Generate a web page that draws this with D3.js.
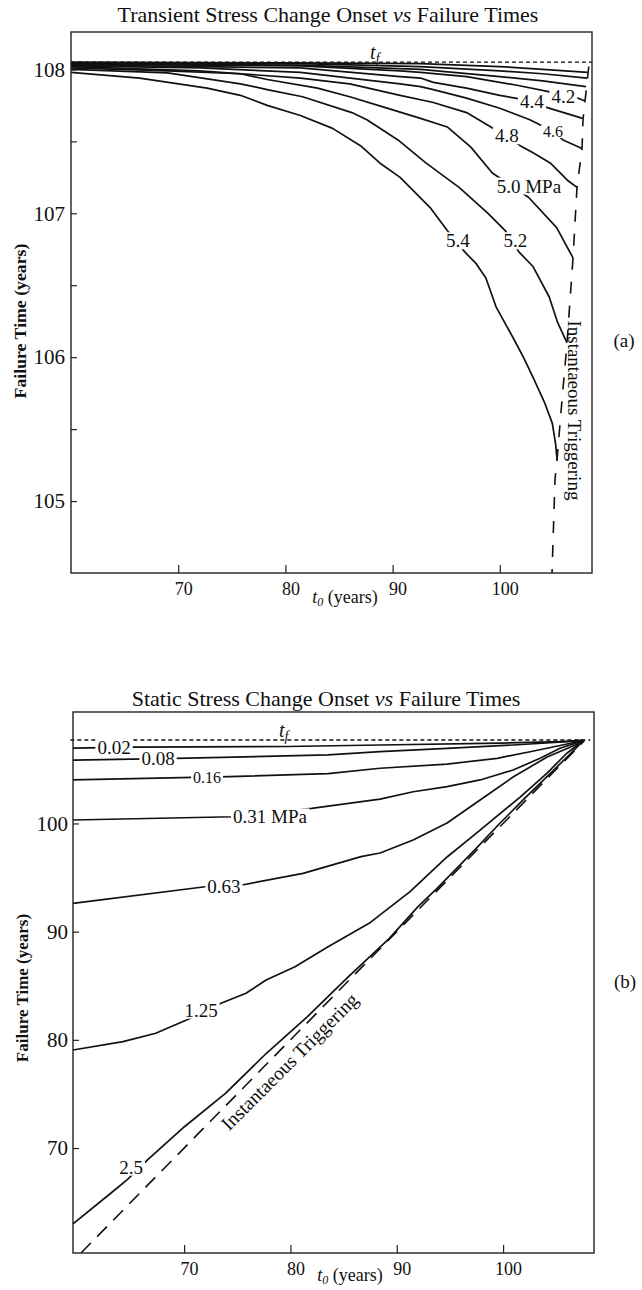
<!DOCTYPE html>
<html>
<head>
<meta charset="utf-8">
<script src="https://cdn.jsdelivr.net/npm/d3@7"></script>
<style>
  body { margin: 0; background: #fff; }
  svg { display: block; font-family: "Liberation Serif", "Times New Roman", serif; }
  text { fill: #111; white-space: pre; }
</style>
</head>
<body>
<svg id="chart" width="642" height="1290"></svg>
<script>

// ---- panel (a): transient stress change, points are [t0, failure time] in years

let xTicks = [70, 80, 90, 100];
let transientYTicks = [105, 105.5, 106, 106.5, 107, 107.5, 108];
let transientTf = 108.05;

let transientU1 = [[60, 108.05], [81.4, 108.045], [92.6, 108.04], [100, 108.02], [104, 108.0], [108.2, 107.98]];
let transientU2 = [[60, 108.045], [81.4, 108.04], [92.6, 108.02], [100, 107.99], [104, 107.97], [108.13, 107.94]];
let transientU3 = [[60, 108.04], [81.4, 108.03], [92.6, 108.0], [100, 107.95], [104, 107.92], [108.04, 107.88]];
let transient42 = [[60, 108.035], [72, 108.03], [81.4, 108.025], [90.7, 107.99], [92.6, 107.98], [96.9, 107.95],
                   [101.6, 107.89], [104.9, 107.84], [105.9, 107.82], [107.3, 107.8], [107.95, 107.78]];
let transient44 = [[60, 108.03], [72, 108.02], [81.4, 108.01], [90.7, 107.95], [92.6, 107.94], [93.8, 107.91],
                   [96.9, 107.87], [100, 107.82], [103, 107.78], [104.2, 107.74], [107.72, 107.66]];
let transient46 = [[60, 108.025], [72, 108.01], [81.4, 107.98], [90.7, 107.9], [92.6, 107.88], [93.8, 107.86],
                   [96.9, 107.8], [100, 107.73], [102.8, 107.65], [104.96, 107.57], [105.9, 107.51], [107.67, 107.45]];
let transient48 = [[60, 108.02], [72, 107.99], [81.4, 107.94], [86, 107.9], [90.7, 107.82], [93.8, 107.77],
                   [96.9, 107.7], [99.4, 107.59], [100.65, 107.54], [101.9, 107.47], [103.1, 107.42], [104.7, 107.35],
                   [106.3, 107.23], [107.2, 107.18]];
let transient50 = [[60, 108.01], [69, 107.99], [75.8, 107.97], [78.3, 107.93], [83, 107.87], [86, 107.81],
                   [89.1, 107.74], [92.6, 107.66], [95.1, 107.6], [97.3, 107.46], [99.3, 107.28], [102.7, 107.11],
                   [105.3, 106.9], [106.83, 106.69]];
let transient52 = [[60, 108.0], [69, 107.976], [75.8, 107.9], [78.3, 107.86], [81.6, 107.81], [86.2, 107.7],
                   [87.6, 107.65], [90.5, 107.51], [93.1, 107.35], [96.2, 107.18], [98.9, 107.0], [100.5, 106.88],
                   [101.8, 106.73], [103.1, 106.63], [104.6, 106.42], [105.4, 106.24], [106.27, 106.1]];
let transient54 = [[60, 107.98], [66.4, 107.94], [72.7, 107.87], [75.8, 107.82], [78.3, 107.75], [81.4, 107.68],
                   [84.4, 107.59], [87, 107.47], [88.8, 107.35], [90.7, 107.25], [93.5, 107.04], [95.1, 106.88],
                   [96.75, 106.73], [97.8, 106.65], [98.7, 106.55], [99.65, 106.35], [101.2, 106.14], [102.2, 106.0],
                   [103.1, 105.86], [104.2, 105.68], [104.9, 105.54], [105.2, 105.4], [105.34, 105.29]];
let transientInstant = [[108.3, 108.02], [107.95, 107.78], [107.76, 107.65], [107.67, 107.45], [107.2, 107.18],
                        [106.83, 106.69], [106.27, 106.1], [105.8, 105.7], [105.34, 105.29], [105.15, 105.15],
                        [104.87, 104.5]];

let transientLabelText = ["4.2", "4.4", "4.6", "4.8", "5.0 MPa", "5.2", "5.4"];
let transientLabelAt = [[105.93, 107.81], [102.98, 107.78], [104.96, 107.57], [100.65, 107.54],
                        [99.71, 107.19], [101.46, 106.81], [96.1, 106.81]];

// ---- panel (b): static stress change

let staticYTicks = [70, 80, 90, 100];
let staticTf = 107.71;

let static002 = [[59.55, 106.97], [65.38, 107.06], [79.68, 107.11], [88.43, 107.25], [99.72, 107.43],
                 [105.36, 107.57], [107.53, 107.67]];
let static008 = [[59.55, 105.86], [69.24, 106.02], [83.54, 106.33], [88.43, 106.63], [94.73, 106.94],
                 [100.94, 107.25], [106.02, 107.55], [107.53, 107.67]];
let static016 = [[59.55, 104.02], [74.27, 104.32], [83.54, 104.6], [88.43, 105.1], [94.73, 105.49],
                 [99.44, 106.02], [102.54, 106.63], [105.36, 107.2], [107.53, 107.67]];
let static031 = [[59.55, 100.32], [74.6, 100.62], [81.99, 101.4], [88.43, 102.25], [91.54, 102.93],
                 [94.73, 103.4], [97.84, 104.02], [100.94, 104.94], [103.48, 106.02], [105.36, 106.95],
                 [107.24, 107.56], [107.53, 107.67]];
let static063 = [[59.55, 92.62], [71.97, 94.15], [75.45, 94.31], [81.19, 95.39], [86.64, 96.93], [88.43, 97.27],
                 [91.54, 98.47], [94.73, 100.04], [97.84, 102.17], [100.94, 104.29], [104.14, 106.14],
                 [107.24, 107.43], [107.53, 107.67]];
let static125 = [[59.55, 79.06], [64.25, 79.83], [67.33, 80.61], [70.23, 81.83], [73.47, 83.38], [75.82, 84.3],
                 [77.71, 85.53], [80.43, 86.76], [83.54, 88.61], [87.4, 90.77], [91.25, 93.7], [94.73, 96.9],
                 [97.84, 99.39], [101.6, 102.44], [104.14, 104.66], [106.02, 106.51], [107.53, 107.62]];
let static25 = [[59.55, 63.0], [63.1, 65.82], [64.63, 67.05], [66.56, 68.9], [70.03, 71.97], [73.89, 75.06],
                [77.74, 78.76], [81.6, 82.14], [85.46, 85.84], [89.28, 89.35], [92.0, 92.31], [93.79, 94.0],
                [97.18, 97.4], [99.72, 100.04], [101.88, 102.17], [104.42, 104.6], [106.49, 106.6], [107.53, 107.65]];
let staticInstant = [[60.3, 60.3], [107.65, 107.65]];

let staticLabelText = ["0.02", "0.08", "0.16", "0.31 MPa", "0.63", "1.25", "2.5"];
let staticLabelAt = [[63.41, 107.04], [67.55, 105.99], [72.16, 104.28], [74.6, 100.62],
                     [73.75, 94.22], [71.59, 82.76], [65.01, 68.25]];


// layout of the two panels (pixels)

let panels = [
    {
        left: 71, right: 592, top: 32, bottom: 573,
        xDomain: [60, 108.6], yDomain: [104.5, 108.26],
        yTicks: transientYTicks, yPad: 6,
        title: ["Transient Stress Change Onset ", " Failure Times"], titleX: 328, titleY: 22,
        yLabelX: 26, yLabelY: 321, yLabelSize: 17.75, xLabelX: 345, xLabelY: 603,
        tag: "(a)", tagX: 624, tagY: 347,
        tf: transientTf, tfSpan: [60, 108.6], tfLabelT0: 87.9,
        curves: [transientU1, transientU2, transientU3, transient42, transient44, transient46,
                 transient48, transient50, transient52, transient54],
        instant: transientInstant, dash: "12,12",
        instantAt: [107.0, 105.63], instantAngle: 90, instantSize: 19,
        labelText: transientLabelText, labelAt: transientLabelAt,
        smallLabels: ["4.6"], startLabels: ["5.0 MPa"]
    },
    {
        left: 73, right: 594, top: 712, bottom: 1253,
        xDomain: [59.55, 108.55], yDomain: [60.3, 110.3],
        yTicks: staticYTicks, yPad: 5,
        title: ["Static Stress Change Onset ", " Failure Times"], titleX: 326, titleY: 706,
        yLabelX: 28, yLabelY: 988, yLabelSize: 17, xLabelX: 350, xLabelY: 1281,
        tag: "(b)", tagX: 625, tagY: 988,
        tf: staticTf, tfSpan: [59.3, 108.2], tfLabelT0: 78.93,
        curves: [static002, static008, static016, static031, static063, static125, static25],
        instant: staticInstant, dash: "14,9",
        instantAt: [79.9, 78.0], instantAngle: -45, instantSize: 19.5,
        labelText: staticLabelText, labelAt: staticLabelAt,
        smallLabels: ["0.16"], startLabels: ["0.31 MPa"]
    }
];

let svg = d3.select("#chart");

function drawPanel(p) {
    let x = d3.scaleLinear().domain(p.xDomain).range([p.left, p.right]);
    let y = d3.scaleLinear().domain(p.yDomain).range([p.bottom, p.top]);
    let g = svg.append("g");

    // title with italic "vs"
    let title = g.append("text")
                 .attr("x", p.titleX)
                 .attr("y", p.titleY)
                 .attr("text-anchor", "middle")
                 .style("font-size", "22px");
    title.append("tspan").text(p.title[0]);
    title.append("tspan").style("font-style", "italic").text("vs");
    title.append("tspan").text(p.title[1]);

    // axes, ticks pointing inward
    let xAxis = g.append("g")
                 .attr("transform", `translate(0,${p.bottom})`)
                 .call(d3.axisBottom(x).tickValues(xTicks).tickSize(-8).tickPadding(9));
    let yAxis = g.append("g")
                 .attr("transform", `translate(${p.left},0)`)
                 .call(d3.axisLeft(y).tickValues(p.yTicks).tickSize(-6).tickPadding(p.yPad)
                         .tickFormat(d => Number.isInteger(d) ? d : ""));
    [xAxis, yAxis].forEach(a => {
        a.attr("font-family", null).attr("font-size", null);
        a.select(".domain").remove();
        a.selectAll("line").attr("stroke", "#222").attr("stroke-width", 1.2);
    });
    xAxis.selectAll("text").style("font-size", "18px").attr("dx", 5);
    yAxis.selectAll("text").style("font-size", "21px");

    // axis titles
    g.append("text")
     .attr("transform", `translate(${p.yLabelX},${p.yLabelY}) rotate(-90)`)
     .attr("text-anchor", "middle")
     .style("font-size", p.yLabelSize + "px")
     .style("font-weight", "bold")
     .text("Failure Time (years)");

    let xl = g.append("text")
              .attr("x", p.xLabelX)
              .attr("y", p.xLabelY)
              .attr("text-anchor", "middle")
              .style("font-size", "18px");
    xl.append("tspan").style("font-style", "italic").text("t");
    xl.append("tspan").style("font-style", "italic").style("font-size", "12px").attr("dy", 3).text("0");
    xl.append("tspan").attr("dy", -3).text(" (years)");

    g.append("text")
     .attr("x", p.tagX)
     .attr("y", p.tagY)
     .attr("text-anchor", "middle")
     .style("font-size", "19px")
     .text(p.tag);

    // failure time t_f
    g.append("line")
     .attr("x1", x(p.tfSpan[0]))
     .attr("x2", x(p.tfSpan[1]))
     .attr("y1", y(p.tf))
     .attr("y2", y(p.tf))
     .attr("stroke", "#111")
     .attr("stroke-width", 1.3)
     .attr("stroke-dasharray", "4,3");

    let tfl = g.append("text")
               .attr("x", x(p.tfLabelT0))
               .attr("y", y(p.tf) - 3)
               .style("font-size", "20px")
               .style("font-style", "italic");
    tfl.append("tspan").text("t");
    tfl.append("tspan").style("font-size", "14px").attr("dy", 4).text("f");

    // contours of equal stress change
    let path = d3.line().x(d => x(d[0])).y(d => y(d[1]));

    g.append("g")
     .selectAll("path")
     .data(p.curves)
     .join("path")
     .attr("d", path)
     .attr("fill", "none")
     .attr("stroke", "#111")
     .attr("stroke-width", 1.7)
     .attr("stroke-linejoin", "round");

    g.append("path")
     .attr("d", path(p.instant))
     .attr("fill", "none")
     .attr("stroke", "#111")
     .attr("stroke-width", 1.6)
     .attr("stroke-dasharray", p.dash);

    g.append("text")
     .attr("transform", `translate(${x(p.instantAt[0])},${y(p.instantAt[1])}) rotate(${p.instantAngle})`)
     .attr("text-anchor", "middle")
     .attr("dy", "0.35em")
     .style("font-size", p.instantSize + "px")
     .text("Instantaeous Triggering");

    // contour labels, each on a white patch that breaks the line
    let labels = g.append("g")
                  .selectAll("g")
                  .data(p.labelText.map((t, i) => ({ text: t, at: p.labelAt[i] })))
                  .join("g")
                  .attr("transform", d => `translate(${x(d.at[0])},${y(d.at[1])})`);
    labels.append("text")
          .attr("text-anchor", d => p.startLabels.includes(d.text) ? "start" : "middle")
          .attr("dy", "0.35em")
          .style("font-size", d => p.smallLabels.includes(d.text) ? "16px" : "19px")
          .text(d => d.text);
    labels.each(function() {
        let grp = d3.select(this);
        let b = grp.select("text").node().getBBox();
        grp.insert("rect", "text")
           .attr("x", b.x - 2)
           .attr("y", b.y + 2)
           .attr("width", b.width + 4)
           .attr("height", b.height - 4)
           .attr("fill", "#fff");
    });

    // frame
    g.append("rect")
     .attr("x", p.left)
     .attr("y", p.top)
     .attr("width", p.right - p.left)
     .attr("height", p.bottom - p.top)
     .attr("fill", "none")
     .attr("stroke", "#222")
     .attr("stroke-width", 1.4);
}

panels.forEach(drawPanel);

</script>
</body>
</html>
